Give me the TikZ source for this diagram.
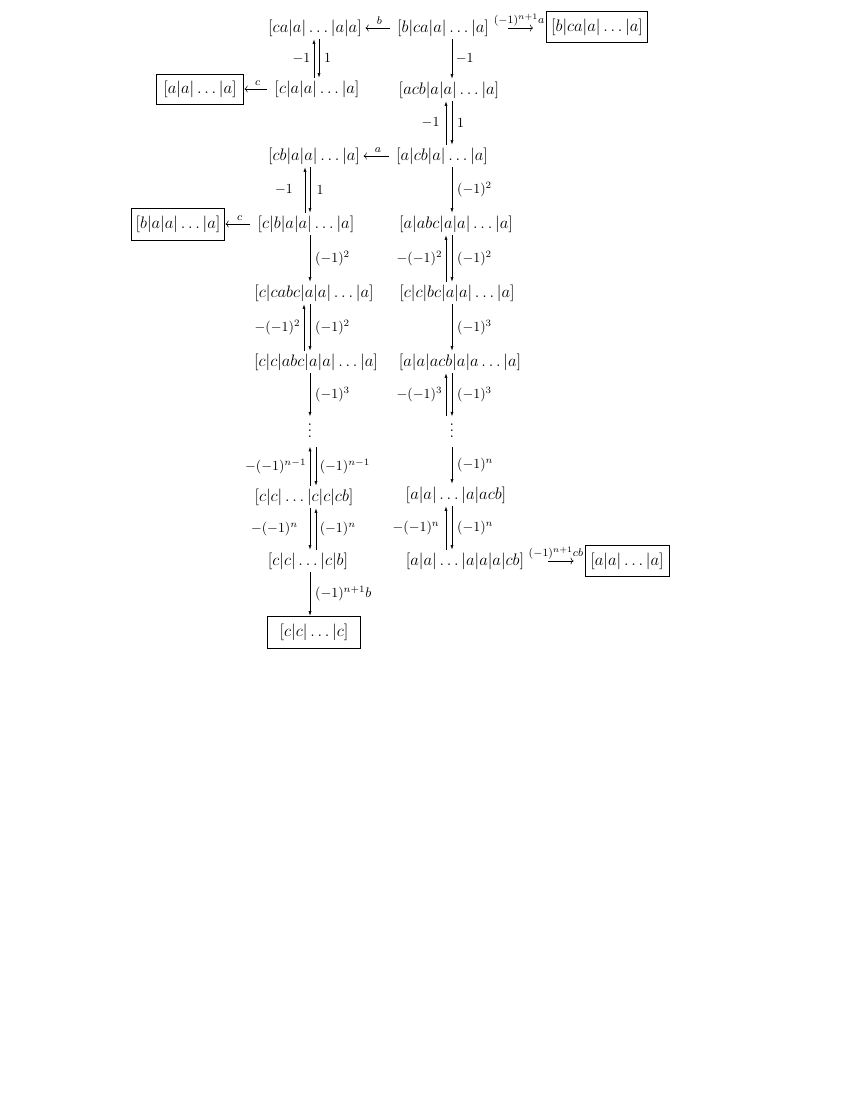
\documentclass[tikz,border=0pt,12pt]{standalone}
\usetikzlibrary{arrows.meta}
\begin{document}
\begin{tikzpicture}[x=0.72pt,y=-0.72pt]
\tikzset{
 ent/.style={inner sep=2pt, text height=9pt, text depth=3pt},
 boxed/.style={draw, line width=0.5pt, inner sep=2pt, text height=9pt, text depth=3pt},
 vdotsnode/.style={inner sep=0pt, anchor=base, text height=14.7pt, text depth=6.9pt},
 va/.style={-{Latex[length=3.2pt,width=2.2pt]}, line width=0.4pt},
 ha/.style={-{To[length=2.2pt,width=5pt]}, line width=0.4pt},
 vl/.style={font=\footnotesize, inner sep=2.5pt},
 vr/.style={font=\footnotesize, inner sep=2.5pt, right, xshift=1pt},
 hl/.style={font=\scriptsize, inner sep=1pt},
}
\useasboundingbox (0,0) rectangle (850,1100);
% column coordinates for the vertical arrows
\coordinate (x304) at (304,0);
\coordinate (x305) at (305,0);
\coordinate (x310) at (310,0);
\coordinate (x314) at (314,0);
\coordinate (x316) at (316,0);
\coordinate (x319) at (319,0);
\coordinate (x446) at (446,0);
\coordinate (x452) at (452,0);
% entries
\node[ent] (A1) at (315,28) {$[ca|a|\ldots|a|a]$};
\node[ent] (B1) at (443,28) {$[b|ca|a|\ldots|a]$};
\node[boxed, minimum width=72.7pt, minimum height=22.3pt] (C1) at (597,27) {$[b|ca|a|\ldots|a]$};
\node[boxed, minimum width=62.6pt, minimum height=21.6pt] (D2) at (200,89) {$[a|a|\ldots|a]$};
\node[ent] (C2) at (317,89) {$[c|a|a|\ldots|a]$};
\node[ent] (B2) at (449,90) {$[acb|a|a|\ldots|a]$};
\node[ent] (A3) at (314,156) {$[cb|a|a|\ldots|a]$};
\node[ent] (B3) at (442,156) {$[a|cb|a|\ldots|a]$};
\node[boxed, minimum width=67pt, minimum height=23pt] (D4) at (178,224) {$[b|a|a|\ldots|a]$};
\node[ent] (C4) at (306,224) {$[c|b|a|a|\ldots|a]$};
\node[ent] (B4) at (456,224) {$[a|abc|a|a|\ldots|a]$};
\node[ent] (A5) at (314,293) {$[c|cabc|a|a|\ldots|a]$};
\node[ent] (B5) at (457,293) {$[c|c|bc|a|a|\ldots|a]$};
\node[ent] (A6) at (316,362) {$[c|c|abc|a|a|\ldots|a]$};
\node[ent] (B6) at (460,362) {$[a|a|acb|a|a\ldots|a]$};
\node[vdotsnode] (V1) at (310,437) {$\vdots$};
\node[vdotsnode] (V2) at (452,437) {$\vdots$};
\node[ent] (A8) at (304,497) {$[c|c|\ldots|c|c|cb]$};
\node[ent] (B8) at (456,495) {$[a|a|\ldots|a|acb]$};
\node[ent] (A9) at (308,561) {$[c|c|\ldots|c|b]$};
\node[ent] (B9) at (465,561) {$[a|a|\ldots|a|a|a|cb]$};
\node[boxed, minimum width=60.5pt, minimum height=22.3pt] (C9) at (627,561) {$[a|a|\ldots|a]$};
\node[boxed, minimum width=67pt, minimum height=23pt] (E10) at (314,632) {$[c|c|\ldots|c]$};
% horizontal arrows
\draw[ha, shorten <=2.5pt, shorten >=0.5pt] (B1.west) -- node[hl, above, yshift=1pt] {$b$} (A1.east);
\draw[ha, shorten <=11.5pt, shorten >=9.5pt] (B1.east) -- node[hl, above] {$(-1)^{n+1}a$} (B1.east -| C1.west);
\draw[ha, shorten <=3pt, shorten >=0.5pt] (C2.west) -- node[hl, above, yshift=1pt] {$c$} (D2.east);
\draw[ha, shorten <=2.5pt, shorten >=0.5pt] (B3.west) -- node[hl, above, yshift=1pt] {$a$} (A3.east);
\draw[ha, shorten <=3pt, shorten >=0.5pt] (C4.west) -- node[hl, above, yshift=1pt] {$c$} (D4.east);
\draw[ha, shorten <=15pt, shorten >=8pt] (B9.east) -- node[hl, above] {$(-1)^{n+1}cb$} (C9.west);
% vertical arrows
\draw[va] (C2.north -| x314) -- node[vl, left] {$-1$} (A1.south -| x314);
\draw[va] (A1.south -| x319) -- node[vr] {$1$} (C2.north -| x319);
\draw[va] (B1.south -| x452) -- node[vr, xshift=-1pt] {$-1$} (B2.north -| x452);
\draw[va] (B3.north -| x446) -- node[vl, left, xshift=-2pt] {$-1$} (B2.south -| x446);
\draw[va] (B2.south -| x452) -- node[vr] {$1$} (B3.north -| x452);
\draw[va] (C4.north -| x305) -- node[vl, left, xshift=-6pt] {$-1$} (A3.south -| x305);
\draw[va] (A3.south -| x310) -- node[vr, xshift=1pt] {$1$} (C4.north -| x310);
\draw[va] (B3.south -| x452) -- node[vr] {$(-1)^2$} (B4.north -| x452);
\draw[va] (C4.south -| x310) -- node[vr] {$(-1)^2$} (A5.north -| x310);
\draw[va] (B5.north -| x446) -- node[vl, left] {$-(-1)^2$} (B4.south -| x446);
\draw[va] (B4.south -| x452) -- node[vr] {$(-1)^2$} (B5.north -| x452);
\draw[va] (A6.north -| x304) -- node[vl, left] {$-(-1)^2$} (A5.south -| x304);
\draw[va] (A5.south -| x310) -- node[vr] {$(-1)^2$} (A6.north -| x310);
\draw[va] (B5.south -| x452) -- node[vr] {$(-1)^3$} (B6.north -| x452);
\draw[va] (A6.south -| x310) -- node[vr] {$(-1)^3$} (V1.north -| x310);
\draw[va] (V2.north -| x446) -- node[vl, left] {$-(-1)^3$} (B6.south -| x446);
\draw[va] (B6.south -| x452) -- node[vr] {$(-1)^3$} (V2.north -| x452);
\draw[va] (A8.north -| x310) -- node[vl, left] {$-(-1)^{n-1}$} (V1.south -| x310);
\draw[va] (V1.south -| x316) -- node[vr, xshift=-1pt] {$(-1)^{n-1}$} (A8.north -| x316);
\draw[va] (V2.south -| x452) -- node[vr] {$(-1)^n$} (B8.north -| x452);
\draw[va] (A8.south -| x310) -- node[vl, left, xshift=-6pt] {$-(-1)^n$} (A9.north -| x310);
\draw[va] (A9.north -| x316) -- node[vr, xshift=-1pt] {$(-1)^n$} (A8.south -| x316);
\draw[va] (B9.north -| x446) -- node[vl, left, xshift=-2pt] {$-(-1)^n$} (B8.south -| x446);
\draw[va] (B8.south -| x452) -- node[vr] {$(-1)^n$} (B9.north -| x452);
\draw[va] (A9.south -| x310) -- node[vr] {$(-1)^{n+1}b$} (E10.north -| x310);
\end{tikzpicture}
\end{document}
